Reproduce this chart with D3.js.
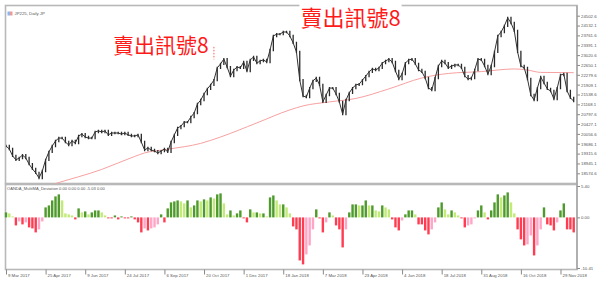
<!DOCTYPE html>
<html>
<head>
<meta charset="utf-8">
<script src="https://cdn.jsdelivr.net/npm/d3@7"></script>
<style>
  body { margin: 0; background: #fff; }
  svg { display: block; font-family: Arial, "Liberation Sans", sans-serif; }
  .axis text { font-size: 4.3px; fill: #555; }
  .axis line { stroke: #888; }
</style>
</head>
<body>
<svg id="chart" width="602" height="289"></svg>
<script>
// JP225 daily closes, sampled about every 2.5 trading days
var closes = [
  19600, 19490, 19230, 19080, 19150, 19260, 19150, 18920, 18740, 18590,
  18400, 18660, 19080, 19380, 19600, 19790, 19900, 19900, 19750, 19640,
  19790, 19710, 19980, 20050, 19940, 19900, 19900, 20130, 20170, 20130,
  20170, 20020, 20090, 20090, 20090, 20050, 20090, 20020, 19980, 19980,
  20020, 19750, 19450, 19530, 19450, 19410, 19340, 19410, 19490, 19380,
  19750, 20020, 20280, 20350, 20500, 20500, 20690, 20840, 21180, 21330,
  21560, 21750, 21900, 22080, 22540, 22690, 22870, 22570, 22230, 22460,
  22570, 22540, 22760, 22420, 22840, 22950, 22720, 22800, 22840, 22760,
  23210, 23740, 23810, 23810, 23890, 23890, 23740, 23480, 23140, 22080,
  21480, 21440, 21780, 22050, 22160, 21900, 21260, 21520, 21780, 21780,
  21560, 21260, 20800, 21330, 21600, 21780, 21900, 21930, 22080, 22230,
  22390, 22500, 22460, 22540, 22720, 22800, 22870, 22760, 22420, 22120,
  22310, 22720, 22840, 22870, 22690, 22460, 22390, 22160, 21780, 21710,
  22160, 22610, 22800, 22720, 22540, 22610, 22650, 22650, 22540, 22230,
  22120, 22160, 22460, 22870, 22840, 22610, 22310, 22610, 23140, 23740,
  23890, 24120, 24420, 24230, 23930, 23140, 22610, 22540, 22120, 21520,
  21330, 21780, 22200, 21970, 21750, 21670, 21370, 21780, 22270, 22310,
  21670, 21410, 21290
];

// moving average, read at a few bars: [bar, value]
var maPoints = [
  [0, 17610], [15, 18190], [29, 18720], [39, 19210], [42, 19340], [49, 19480],
  [59, 19700], [65, 19940], [76, 20470], [86, 20960], [90, 21110], [98, 21260],
  [106, 21390], [116, 21750], [126, 22160], [134, 22330], [144, 22400],
  [154, 22500], [158, 22460], [162, 22370], [172, 22360]
];

// deviation histogram, same bars as closes
var deviation = [
  0.86, 0.69, 0.17, -1.38, -0.69, -1.20, -0.86, -1.72, -1.89, -2.58,
  -2.06, -0.69, 1.72, 2.06, 2.92, 3.61, 3.96, 2.92, 0.69, 0.52,
  0.34, -0.34, 1.55, 0.86, 1.03, 0.52, 0.86, 1.20, 1.20, 0.86,
  0.34, -0.17, -0.17, 0.34, -0.34, 0.17, -0.17, -0.17, 0.17, -0.34,
  -0.86, -2.58, -1.89, -2.24, -1.89, -1.72, -1.20, 0.52, -0.86, 1.55,
  2.58, 2.75, 2.92, 2.75, 2.41, 2.92, 1.72, 2.06, 2.92, 2.75,
  3.10, 2.92, 3.44, 3.27, 3.96, 4.13, 2.41, 0.52, 1.20, 0.34,
  0.69, 1.20, -0.17, -0.86, 1.38, 0.86, 0.86, 0.69, 0.69, 0.17,
  3.44, 3.78, 2.92, 2.24, 2.24, 1.72, 0.69, -1.55, -2.06, -7.40,
  -8.08, -6.36, -4.82, -2.06, 1.38, -0.17, -2.58, -0.86, 0.86, 0.34,
  -1.38, -2.06, -5.16, -2.06, 0.86, 2.24, 2.24, 2.06, 2.06, 2.92,
  2.06, 2.06, 1.20, 1.03, 2.06, 1.72, 1.38, -0.34, -1.72, -2.24,
  -0.52, 0.52, 1.20, 1.20, 0.52, -1.20, -1.20, -2.24, -2.92, -2.06,
  -0.86, 1.72, 2.58, 1.38, 0.52, 1.20, 0.86, 0.34, -0.17, -1.72,
  -1.38, -1.20, -0.17, 1.20, 2.06, 0.86, -0.34, 1.20, 2.58, 3.96,
  3.44, 3.78, 4.30, 2.58, 0.69, -2.06, -3.78, -4.82, -4.64, -3.10,
  -6.54, -4.82, -2.06, 1.72, -1.20, -1.38, -2.24, -0.86, 1.20, 2.41,
  -2.06, -2.06, -2.58
];

var priceTicks = [
  24502.6, 24132.1, 23761.6, 23391.1, 23020.6, 22650.1, 22279.6, 21909.1,
  21538.6, 21168.1, 20797.6, 20427.1, 20056.6, 19686.1, 19315.6, 18945.1, 18574.6
];
var dateLabels = [
  '9 Mar 2017', '25 Apr 2017', '9 Jun 2017', '24 Jul 2017', '6 Sep 2017',
  '20 Oct 2017', '1 Dec 2017', '18 Jan 2018', '7 Mar 2018', '23 Apr 2018',
  '4 Jun 2018', '18 Jul 2018', '31 Aug 2018', '16 Oct 2018', '29 Nov 2018'
];
var devTicks = [5.4, 0, -8.7];
var devTickLabels = ['5.40', '0.00', '-10.41'];
var signalText = '賣出訊號8';

var left = 6, right = 577;
var mainTop = 5.5, mainBottom = 183.5;
var subTop = 184.5, subBottom = 269.5;

var svg = d3.select('#chart');

var x = d3.scaleLinear().domain([0, closes.length]).range([left, right]);
var y = d3.scaleLinear().domain([18574.6, 24502.6]).range([173.3, 15.7]);
var yDev = d3.scaleLinear().domain([-8.7, 5.4]).range([268, 186]);

svg.append('defs').append('clipPath').attr('id', 'clipMain')
  .append('rect').attr('x', left).attr('y', mainTop)
  .attr('width', right - left).attr('height', mainBottom - mainTop);

// frames
svg.append('rect')
  .attr('x', 5.5).attr('y', mainTop).attr('width', right - 5.5).attr('height', mainBottom - mainTop)
  .attr('fill', 'none').attr('stroke', '#b8b8b8').attr('stroke-width', 1.6);
svg.append('rect')
  .attr('x', 5.5).attr('y', subTop).attr('width', right - 5.5).attr('height', subBottom - subTop)
  .attr('fill', 'none').attr('stroke', '#b8b8b8').attr('stroke-width', 1.6);

var main = svg.append('g').attr('clip-path', 'url(#clipMain)');

// moving average
main.append('path')
  .datum(maPoints)
  .attr('fill', 'none')
  .attr('stroke', '#f7a0a0')
  .attr('stroke-width', 1)
  .attr('d', d3.line().x(d => x(d[0])).y(d => y(d[1])).curve(d3.curveMonotoneX));

// price bars
main.selectAll('line.bar')
  .data(closes)
  .enter()
    .append('line')
    .attr('class', 'bar')
    .attr('x1', (d, i) => x(i))
    .attr('x2', (d, i) => x(i))
    .attr('y1', (d, i) => y(Math.max(d, i ? closes[i - 1] : d) + 45))
    .attr('y2', (d, i) => y(Math.min(d, i ? closes[i - 1] : d) - 45))
    .attr('stroke', '#2a2a2a')
    .attr('stroke-width', 1.3);

main.append('path')
  .datum(closes)
  .attr('fill', 'none')
  .attr('stroke', '#333')
  .attr('stroke-width', 1)
  .attr('d', d3.line().x((d, i) => x(i)).y(d => y(d)));

// small signal mark
main.append('line')
  .attr('x1', x(63)).attr('x2', x(63))
  .attr('y1', y(23330)).attr('y2', y(22860))
  .attr('stroke', '#ff3030').attr('stroke-width', 0.8)
  .attr('stroke-dasharray', '1.5,1.5');

// deviation histogram
function barColor(d, i) {
  var prev = i ? deviation[i - 1] : d;
  if (d >= 0) return d >= prev ? '#4f9a2c' : '#c2ea78';
  return d <= prev ? '#ff3d52' : '#ffa6c6';
}
svg.append('g').selectAll('rect')
  .data(deviation)
  .enter()
    .append('rect')
    .attr('x', (d, i) => x(i) - 1.2)
    .attr('width', 2.4)
    .attr('y', d => yDev(Math.max(0, d)))
    .attr('height', d => Math.abs(yDev(d) - yDev(0)))
    .attr('fill', barColor);

// axes
var priceAxis = svg.append('g')
  .attr('class', 'axis')
  .attr('transform', 'translate(' + right + ',0)')
  .call(d3.axisRight(y).tickValues(priceTicks).tickSize(3).tickPadding(1).tickFormat(d3.format('.1f')));
priceAxis.select('.domain').remove();

var devAxis = svg.append('g')
  .attr('class', 'axis')
  .attr('transform', 'translate(' + right + ',0)')
  .call(d3.axisRight(yDev).tickValues(devTicks).tickSize(3).tickPadding(1)
    .tickFormat((d, i) => devTickLabels[i]));
devAxis.select('.domain').remove();

svg.append('line')
  .attr('x1', right).attr('x2', right).attr('y1', mainTop).attr('y2', subBottom)
  .attr('stroke', '#999').attr('stroke-width', 1);

var dateAxis = svg.append('g')
  .attr('class', 'axis')
  .attr('transform', 'translate(0,' + subBottom + ')')
  .call(d3.axisBottom(x).tickValues(dateLabels.map((d, i) => i * 12)).tickSize(5)
    .tickFormat((d, i) => dateLabels[i]));
dateAxis.select('.domain').remove();
dateAxis.selectAll('text')
  .attr('text-anchor', 'start')
  .attr('x', 1.5)
  .attr('y', 5)
  .attr('dy', '0.6em');

// legends
svg.append('rect').attr('x', 7.5).attr('y', 11.5).attr('width', 2.5).attr('height', 4).attr('fill', '#8fb6ea');
svg.append('rect').attr('x', 10).attr('y', 11.5).attr('width', 2.5).attr('height', 4).attr('fill', '#ee9a9a');
svg.append('text').attr('x', 14.5).attr('y', 15.2)
  .attr('font-size', 4.3).attr('fill', '#555')
  .text('JP225, Daily  JP');
svg.append('text').attr('x', 7).attr('y', 189.5)
  .attr('font-size', 4.1).attr('fill', '#555')
  .text('OANDA_MultiMA_Deviation 0.00 0.00 0.00 -5.03 0.00');

// sell signal notes, white patch behind so the frame line breaks there
function note(xPos, yPos, size) {
  var g = svg.append('g');
  var bg = g.append('rect').attr('fill', '#fff');
  var t = g.append('text')
    .attr('x', xPos).attr('y', yPos)
    .attr('font-family', '"Noto Sans CJK TC", "Noto Sans CJK SC", sans-serif')
    .attr('font-size', size)
    .attr('fill', '#ff1a1a')
    .text(signalText);
  var b = t.node().getBBox();
  var top = Math.max(1, b.y + size * 0.12);
  bg.attr('x', b.x - 1).attr('y', top).attr('width', b.width + 2).attr('height', yPos + 2 - top);
}
note(x(32.4), y(23090), 21);
note(x(89.2), y(24110), 22);
</script>
</body>
</html>
